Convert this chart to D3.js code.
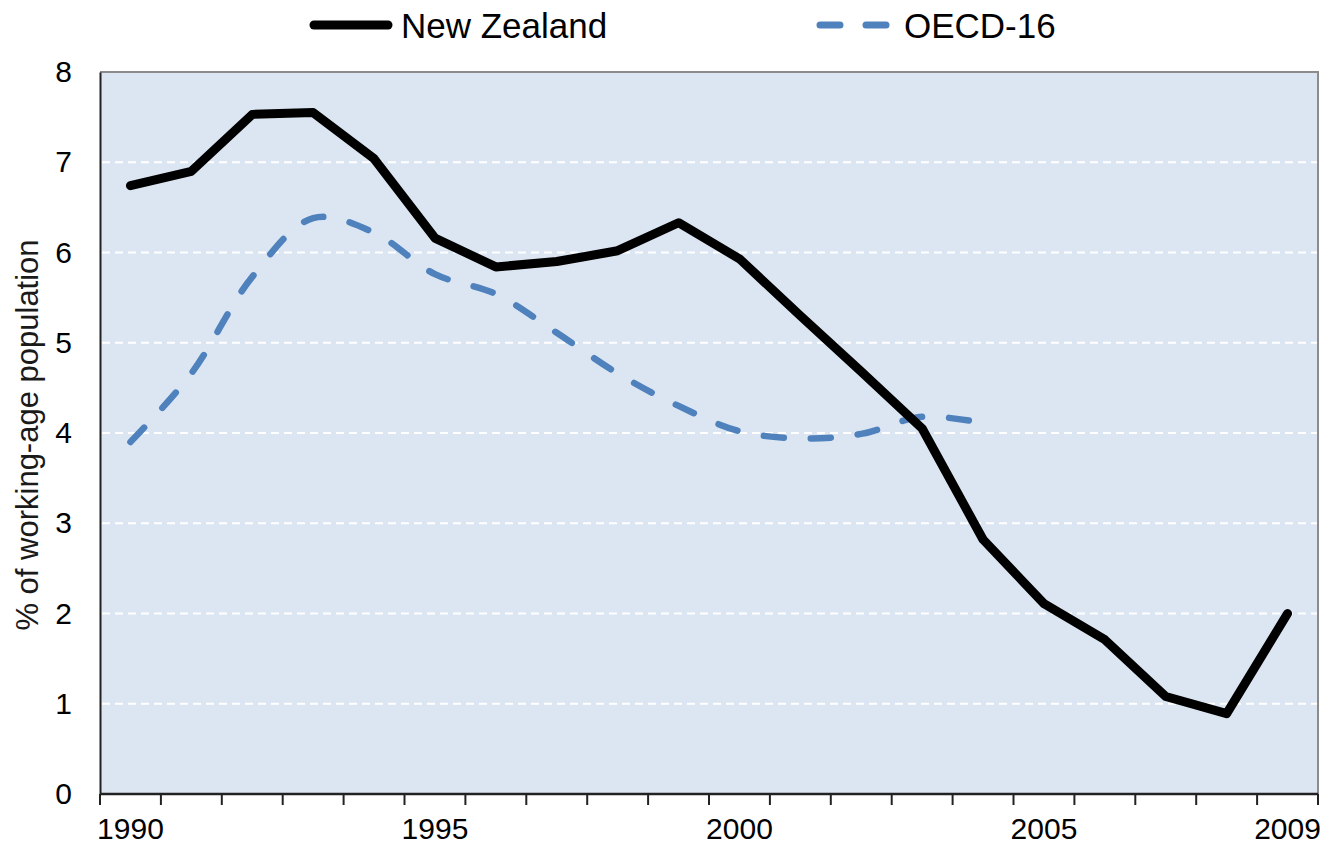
<!DOCTYPE html>
<html>
<head>
<meta charset="utf-8">
<script src="https://cdn.jsdelivr.net/npm/d3@7"></script>
<style>
  html, body { margin: 0; padding: 0; background: #fff; }
  svg { display: block; font-family: "Liberation Sans", Arial, sans-serif; }
</style>
</head>
<body>
<svg id="chart" width="1330" height="850"></svg>
<script>
// ---- data ----
const years = ["1990","1991","1992","1993","1994","1995","1996","1997","1998","1999",
               "2000","2001","2002","2003","2004","2005","2006","2007","2008","2009"];
const newZealand = [6.74, 6.90, 7.53, 7.55, 7.04, 6.16, 5.84, 5.90, 6.02, 6.33,
                    5.93, 5.30, 4.68, 4.05, 2.82, 2.11, 1.71, 1.08, 0.89, 2.00];
const oecd16 = [3.90, 4.66, 5.73, 6.38, 6.22, 5.76, 5.54, 5.11, 4.66, 4.30,
                4.02, 3.94, 3.99, 4.18, 4.11];
const yTicks = [0, 1, 2, 3, 4, 5, 6, 7, 8];
const xTickLabels = ["1990", "1995", "2000", "2005", "2009"];
const seriesNames = ["New Zealand", "OECD-16"];
const yTitle = "% of working-age population";

// ---- layout ----
const svg = d3.select("#chart");
const L = 100, R = 1318, T = 72, B = 794;

const x = d3.scaleBand().domain(years).range([L, R]).paddingInner(0).paddingOuter(0);
const y = d3.scaleLinear().domain([0, 8]).range([B, T]);
const cx = d => x(d) + x.bandwidth() / 2;

// plot background
svg.append("rect").attr("x", L).attr("y", T).attr("width", R - L).attr("height", B - T)
  .attr("fill", "#dce6f2");

// gridlines
svg.append("g").selectAll("line").data(yTicks.filter(v => v > 0 && v < 8)).join("line")
  .attr("x1", L + 2).attr("x2", R - 1)
  .attr("y1", d => y(d)).attr("y2", d => y(d))
  .attr("stroke", "#ffffff").attr("stroke-width", 2).attr("stroke-dasharray", "8 5");

// frame (top/right gray)
svg.append("path")
  .attr("d", `M${L},${T}H${R}V${B}`)
  .attr("fill", "none").attr("stroke", "#8c8c8c").attr("stroke-width", 2);

// y axis labels (no tick marks)
const yAxis = d3.axisLeft(y).tickValues(yTicks).tickSize(0).tickPadding(28).tickFormat(d3.format("d"));
const gy = svg.append("g").attr("transform", `translate(${L},0)`).call(yAxis);
gy.select(".domain").attr("stroke", "#222").attr("stroke-width", 2);
gy.selectAll("text").attr("font-size", 30).attr("fill", "#000")
  .attr("font-family", "'Liberation Sans', Arial, sans-serif");

// x axis: labels at category centres, ticks at band boundaries
const xAxis = d3.axisBottom(x).tickValues(xTickLabels).tickSize(0).tickPadding(24);
const gx = svg.append("g").attr("transform", `translate(0,${B})`).call(xAxis);
gx.select(".domain").remove();
gx.selectAll("text").attr("font-size", 30).attr("fill", "#000")
  .attr("font-family", "'Liberation Sans', Arial, sans-serif");

const boundaries = years.map(d => x(d)).concat([x(years[years.length - 1]) + x.bandwidth()]);
svg.append("g").selectAll("line").data(boundaries).join("line")
  .attr("x1", d => d).attr("x2", d => d)
  .attr("y1", B).attr("y2", B + 11)
  .attr("stroke", "#222").attr("stroke-width", 2);
svg.append("line").attr("x1", L).attr("x2", R).attr("y1", B).attr("y2", B)
  .attr("stroke", "#222").attr("stroke-width", 2.5);

// y title
svg.append("text")
  .attr("transform", `translate(38,${(T + B) / 2 + 2}) rotate(-90)`)
  .attr("text-anchor", "middle")
  .attr("font-size", 31).attr("fill", "#1a1a1a")
  .text(yTitle);

// lines
const nzLine = d3.line().x((d, i) => cx(years[i])).y(d => y(d)).curve(d3.curveLinear);
const oeLine = d3.line().x((d, i) => cx(years[i])).y(d => y(d)).curve(d3.curveCatmullRom.alpha(0.5));

svg.append("path").datum(oecd16).attr("d", oeLine)
  .attr("fill", "none").attr("stroke", "#4f81bd").attr("stroke-width", 6.5)
  .attr("stroke-linecap", "round").attr("stroke-dasharray", "20 27");

svg.append("path").datum(newZealand).attr("d", nzLine)
  .attr("fill", "none").attr("stroke", "#000").attr("stroke-width", 9)
  .attr("stroke-linejoin", "round").attr("stroke-linecap", "round");

// legend
const lg = svg.append("g");
lg.append("line").attr("x1", 314).attr("x2", 388).attr("y1", 25).attr("y2", 25)
  .attr("stroke", "#000").attr("stroke-width", 9).attr("stroke-linecap", "round");
lg.append("text").attr("x", 401).attr("y", 38).attr("font-size", 35).attr("fill", "#000")
  .text(seriesNames[0]);
lg.append("line").attr("x1", 820).attr("x2", 886).attr("y1", 25).attr("y2", 25)
  .attr("stroke", "#4f81bd").attr("stroke-width", 7).attr("stroke-linecap", "round")
  .attr("stroke-dasharray", "20 26");
lg.append("text").attr("x", 904).attr("y", 38).attr("font-size", 35).attr("fill", "#000")
  .text(seriesNames[1]);
</script>
</body>
</html>
